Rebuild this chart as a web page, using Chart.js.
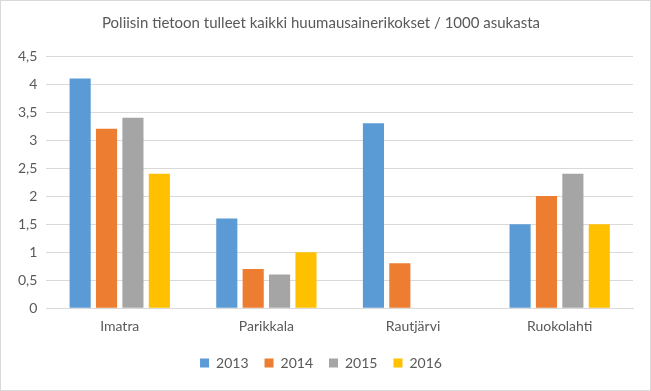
<!DOCTYPE html>
<html>
<head>
<meta charset="utf-8">
<script src="https://cdn.jsdelivr.net/npm/chart.js@4.4.1/dist/chart.umd.min.js"></script>
<style>
  body { margin: 0; background: #fff; }
  #wrap { width: 649px; height: 389px; border: 1px solid #d9d9d9; position: relative; }
</style>
</head>
<body>
<div id="wrap"><canvas id="chart" width="649" height="389"></canvas></div>
<script>
// Data
const municipalities = ['Imatra', 'Parikkala', 'Rautjärvi', 'Ruokolahti'];
const years = ['2013', '2014', '2015', '2016'];
const values2013 = [4.1, 1.6, 3.3, 1.5];
const values2014 = [3.2, 0.7, 0.8, 2.0];
const values2015 = [3.4, 0.6, null, 2.4];
const values2016 = [2.4, 1.0, null, 1.5];
const yearColors = ['#5B9BD5', '#ED7D31', '#A5A5A5', '#FFC000'];

const series = [values2013, values2014, values2015, values2016];
const textColor = '#595959';
const fontFamily = 'Lato, "Open Sans", sans-serif';

const ctx = document.getElementById('chart').getContext('2d');
new Chart(ctx, {
  type: 'bar',
  data: {
    labels: municipalities,
    datasets: years.map((y, i) => ({
      label: y,
      data: series[i],
      backgroundColor: yearColors[i],
      categoryPercentage: 0.72,
      barPercentage: 0.8
    }))
  },
  options: {
    responsive: false,
    animation: false,
    layout: { padding: { left: 8, right: 17, top: 6, bottom: 10 } },
    plugins: {
      title: {
        display: true,
        text: 'Poliisin tietoon tulleet kaikki huumausainerikokset / 1000 asukasta',
        color: textColor,
        font: { family: fontFamily, size: 15, weight: 'normal' },
        padding: { top: 7, bottom: 24 }
      },
      legend: {
        position: 'bottom',
        labels: {
          color: textColor,
          font: { family: fontFamily, size: 14 },
          boxWidth: 9,
          boxHeight: 9,
          padding: 16
        }
      },
      tooltip: { enabled: false }
    },
    scales: {
      x: {
        grid: { display: false },
        border: { color: '#d9d9d9' },
        ticks: { color: textColor, font: { family: fontFamily, size: 14 }, padding: 2 },
        afterFit: scale => { scale.height += 3; }
      },
      y: {
        min: 0,
        max: 4.5,
        grid: { color: '#d9d9d9', drawTicks: false },
        border: { display: false },
        ticks: {
          stepSize: 0.5,
          color: textColor,
          font: { family: fontFamily, size: 14 },
          padding: 9,
          callback: v => String(v).replace('.', ',')
        }
      }
    }
  }
});
</script>
</body>
</html>
